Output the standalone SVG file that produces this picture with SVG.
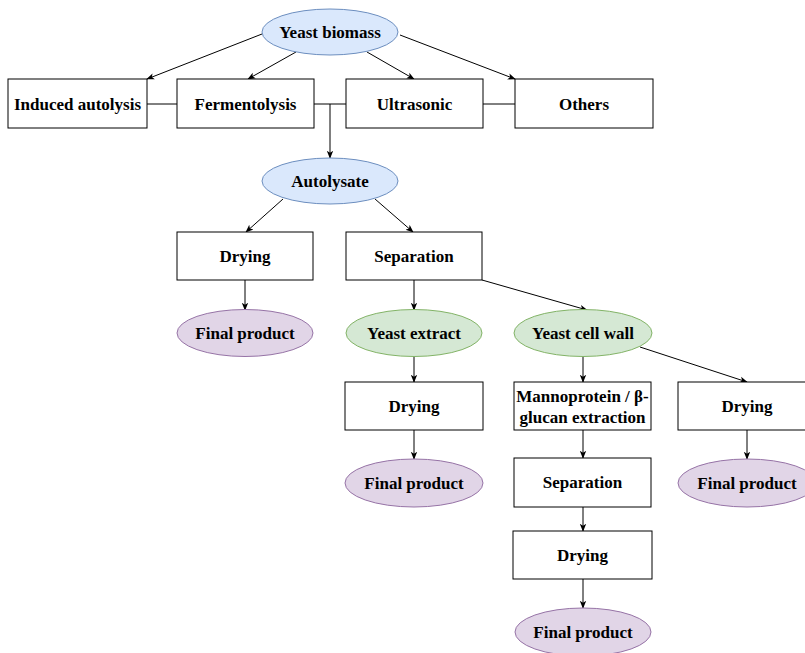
<svg xmlns="http://www.w3.org/2000/svg" width="805" height="653" viewBox="0 0 805 653">
<defs>
<marker id="arr" viewBox="0 0 10 10" refX="9" refY="5" markerWidth="8" markerHeight="8" markerUnits="userSpaceOnUse" orient="auto">
<path d="M0,1 L10,5 L0,9 L2.5,5 Z" fill="#000"/>
</marker>
<style>
text{font-family:"Liberation Serif","Times New Roman",serif;font-weight:bold;font-size:17px;fill:#000;text-anchor:middle;dominant-baseline:central}
.box{fill:#fff;stroke:#000;stroke-width:1}
.blue{fill:#dae8fc;stroke:#6c8ebf;stroke-width:1}
.green{fill:#d5e8d4;stroke:#82b366;stroke-width:1}
.purple{fill:#e1d5e7;stroke:#9673a6;stroke-width:1}
.c{fill:none;stroke:#000;stroke-width:1}
.a{fill:none;stroke:#000;stroke-width:1;marker-end:url(#arr)}
</style>
</defs>
<rect width="805" height="653" fill="#fff"/>
<g id="connectors">
<path class="a" d="M262,34 L147,79"/>
<path class="a" d="M296,52 L248,79"/>
<path class="a" d="M367,52 L414,79"/>
<path class="a" d="M400,35 L515,79"/>
<path class="c" d="M147,104 H177"/>
<path class="c" d="M314,104 H346"/>
<path class="c" d="M483,104 H515"/>
<path class="a" d="M330,104 V158"/>
<path class="a" d="M283,199 L246,232"/>
<path class="a" d="M375,199 L413,232"/>
<path class="a" d="M245,280 V310"/>
<path class="a" d="M414,280 V310"/>
<path class="a" d="M482,280 L587,310"/>
<path class="a" d="M414,357 V382"/>
<path class="a" d="M583,357 V382"/>
<path class="a" d="M640,347 L747,382"/>
<path class="a" d="M414,430 V459"/>
<path class="a" d="M583,430 V458"/>
<path class="a" d="M747,430 V459"/>
<path class="a" d="M583,507 V531"/>
<path class="a" d="M583,579 V608"/>
</g>
<g id="yeast-biomass"><ellipse class="blue" cx="330" cy="32" rx="68" ry="23"/><text x="330" y="32">Yeast biomass</text></g>
<g id="induced-autolysis"><rect class="box" x="8" y="79" width="139" height="49"/><text x="77.5" y="104">Induced autolysis</text></g>
<g id="fermentolysis"><rect class="box" x="177" y="79" width="137" height="49"/><text x="245.5" y="104">Fermentolysis</text></g>
<g id="ultrasonic"><rect class="box" x="346" y="79" width="137" height="49"/><text x="414.5" y="104">Ultrasonic</text></g>
<g id="others"><rect class="box" x="515" y="79" width="138" height="49"/><text x="584" y="104">Others</text></g>
<g id="autolysate"><ellipse class="blue" cx="330" cy="181" rx="68" ry="23"/><text x="330" y="181">Autolysate</text></g>
<g id="drying1"><rect class="box" x="177" y="232" width="136" height="48"/><text x="245" y="256">Drying</text></g>
<g id="separation1"><rect class="box" x="346" y="232" width="136" height="48"/><text x="414" y="256">Separation</text></g>
<g id="final1"><ellipse class="purple" cx="245" cy="333" rx="68" ry="23.5"/><text x="245" y="333">Final product</text></g>
<g id="yeast-extract"><ellipse class="green" cx="414" cy="333" rx="68" ry="23.5"/><text x="414" y="333">Yeast extract</text></g>
<g id="yeast-cell-wall"><ellipse class="green" cx="583" cy="333" rx="69" ry="23.5"/><text x="583" y="333">Yeast cell wall</text></g>
<g id="drying2"><rect class="box" x="345" y="382" width="138" height="48"/><text x="414" y="406">Drying</text></g>
<g id="mannoprotein"><rect class="box" x="514" y="382" width="137" height="48"/><text x="582.5" y="396">Mannoprotein / β-</text><text x="582.5" y="417">glucan extraction</text></g>
<g id="drying3"><rect class="box" x="678" y="382" width="137" height="48"/><text x="747" y="406">Drying</text></g>
<g id="final2"><ellipse class="purple" cx="414" cy="483" rx="69" ry="24"/><text x="414" y="483">Final product</text></g>
<g id="separation2"><rect class="box" x="514" y="458" width="137" height="49"/><text x="582.5" y="482.5">Separation</text></g>
<g id="final3"><ellipse class="purple" cx="747" cy="483" rx="69" ry="24"/><text x="747" y="483">Final product</text></g>
<g id="drying4"><rect class="box" x="513" y="531" width="139" height="48"/><text x="582.5" y="555">Drying</text></g>
<g id="final4"><ellipse class="purple" cx="583" cy="632" rx="68" ry="24"/><text x="583" y="632">Final product</text></g>
</svg>
